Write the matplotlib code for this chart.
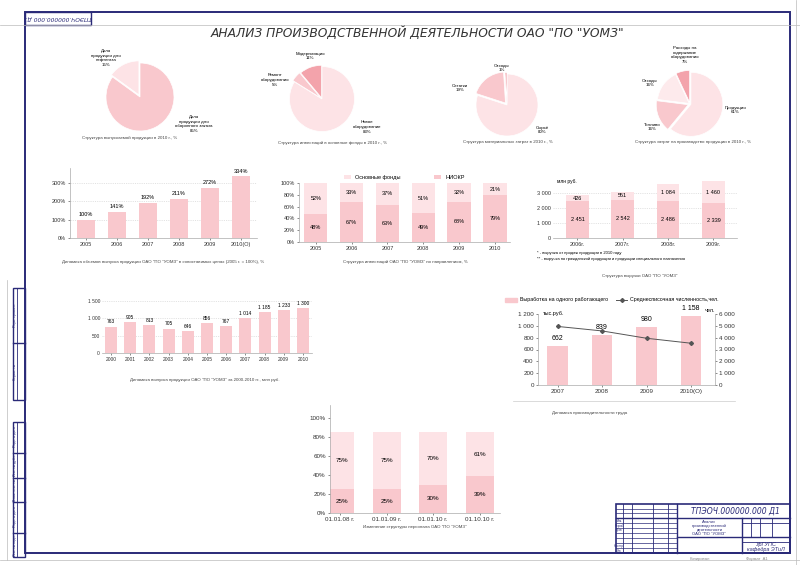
import matplotlib.pyplot as plt
from matplotlib.lines import Line2D
from matplotlib.patches import Rectangle, Patch

W, H = 800, 565
NAVY = '#2a2a78'
PINK = '#f9c8cd'
LIGHT = '#fde3e6'
DARK = '#f3a3ab'
GREY = '#888888'

plt.rcParams['font.family'] = ['Liberation Sans', 'DejaVu Sans']

# ---- данные -------------------------------------------------------------
pie1_values = [85, 15]
pie1_labels = ['Доля\nпродукции для\nоборонного заказа', 'Доля\nпродукции для\nнефтегаза']
pie2_values = [83, 5, 11]
pie2_labels = ['Новое\nоборудование', 'Ремонт\nоборудования', 'Модернизация']
pie3_values = [80, 19, 1]
pie3_labels = ['Сырьё', 'Остатки', 'Отходы']
pie4_values = [61, 16, 16, 7]
pie4_labels = ['Продукция', 'Топливо', 'Отходы', 'Расходы на\nсодержание\nоборудования']

years_growth = ['2005', '2006', '2007', '2008', '2009', '2010(О)']
growth = [100, 141, 192, 211, 272, 334]

years_invest = ['2005', '2006', '2007', '2008', '2009', '2010']
niokr = [48, 67, 63, 49, 68, 79]
funds = [52, 33, 37, 51, 32, 21]

years_rev = ['2006г.', '2007г.', '2008г.', '2009г.']
rev_main = [2451, 2542, 2486, 2339]
rev_extra = [426, 551, 1084, 1460]

years_out = ['2000', '2001', '2002', '2003', '2004', '2005', '2006', '2007', '2008', '2009', '2010']
output = [763, 905, 813, 705, 646, 856, 767, 1014, 1185, 1233, 1300]

years_prod = ['2007', '2008', '2009', '2010(О)']
per_worker = [662, 839, 980, 1158]
headcount = [4950, 4570, 3950, 3530]

dates_staff = ['01.01.08 г.', '01.01.09 г.', '01.01.10 г.', '01.10.10 г.']
staff_low = [25, 25, 30, 39]
staff_high = [75, 75, 70, 61]
staff_bar_total = 85


def rect(x0, y0, x1, y1):
    return [x0 / W, 1 - y1 / H, (x1 - x0) / W, (y1 - y0) / H]


def line(x0, y0, x1, y1, color=NAVY, lw=1.0):
    fig.add_artist(Line2D([x0 / W, x1 / W], [1 - y0 / H, 1 - y1 / H], color=color, lw=lw))


def box(x0, y0, x1, y1, color=NAVY, lw=1.0):
    fig.add_artist(Rectangle((x0 / W, 1 - y1 / H), (x1 - x0) / W, (y1 - y0) / H,
                             fill=False, edgecolor=color, lw=lw))


def txt(x, y, s, **kw):
    kw.setdefault('ha', 'center')
    kw.setdefault('va', 'center')
    kw.setdefault('fontsize', 3.5)
    fig.text(x / W, 1 - y / H, s, **kw)


def fmt(v):
    return f'{v:,}'.replace(',', ' ')


def style_axes(ax, fs=4):
    for s in ['top', 'right']:
        ax.spines[s].set_visible(False)
    for s in ['left', 'bottom']:
        ax.spines[s].set_color('#aaaaaa')
        ax.spines[s].set_linewidth(0.5)
    ax.tick_params(labelsize=fs, length=1.5, width=0.4, pad=1.5, colors='#333333')
    ax.set_facecolor('none')


fig = plt.figure(figsize=(8, 5.65), dpi=100)

# ---- рамка листа --------------------------------------------------------
line(0, 25, 800, 25, color='#bbbbbb', lw=0.5)
line(796, 0, 796, 565, color='#bbbbbb', lw=0.5)
line(7, 280, 7, 560, color='#bbbbbb', lw=0.5)
line(0, 560, 800, 560, color='#bbbbbb', lw=0.5)
box(25, 12, 790, 553, lw=1.4)
box(25, 12, 91, 25, lw=1.0)
txt(58, 18.5, 'ТПЭОЧ.000000.000 Д1', fontsize=4.2, style='italic', rotation=180,
    family='DejaVu Sans', color=NAVY)

# левые штампы
box(13, 288, 25, 400)
line(13, 343, 25, 343)
line(17, 288, 17, 400, lw=0.6)
box(13, 422, 25, 557)
for yy in [453, 478, 502, 533]:
    line(13, yy, 25, yy)
line(17, 422, 17, 557, lw=0.6)
for yy, s in [(315, 'Перв. примен.'), (372, 'Справ. №'), (437, 'Подп. и дата'),
              (465, 'Инв. № дубл.'), (490, 'Взам. инв. №'), (517, 'Подп. и дата'),
              (545, 'Инв. № подл.')]:
    txt(15, yy, s, fontsize=2.5, rotation=90, color=NAVY)

# основная надпись
box(616, 504, 790, 553, lw=1.2)
line(677, 504, 677, 553)
line(616, 518, 790, 518)
for xx in [623, 632, 653, 668]:
    line(xx, 504, xx, 553, lw=0.6)
for yy in [509, 513, 523, 528, 533, 538, 543, 548]:
    line(616, yy, 677, yy, lw=0.5)
line(742, 518, 742, 553)
line(677, 537, 790, 537)
line(742, 523, 790, 523, lw=0.6)
for xx in [751, 760, 772]:
    line(xx, 518, xx, 537, lw=0.6)
line(742, 542, 790, 542, lw=0.6)
txt(735, 511, 'ТПЭОЧ.000000.000 Д1', fontsize=5.5, style='italic', family='DejaVu Sans',
    color=NAVY)
txt(709, 528, 'Анализ\nпроизводственной\nдеятельности\nОАО "ПО "УОМЗ"', fontsize=3,
    linespacing=1.1, color=NAVY)
txt(766, 547, 'УрГУПС\nкафедра ЭТиЛ', fontsize=4, style='italic', color=NAVY,
    linespacing=1.0)
for yy, s in [(520.5, 'Изм.'), (525.5, 'Разраб.'), (530.5, 'Пров.'), (545.5, 'Н.контр.'),
              (550.5, 'Утв.')]:
    txt(619.5, yy, s, fontsize=2, color=NAVY)
txt(700, 559, 'Копировал', fontsize=3, color=GREY)
txt(757, 559, 'Формат  А1', fontsize=3, color=GREY)

# ---- заголовок ----------------------------------------------------------
txt(417, 33, 'АНАЛИЗ ПРОИЗВОДСТВЕННОЙ ДЕЯТЕЛЬНОСТИ ОАО "ПО "УОМЗ"',
    fontsize=8.8, style='italic', family='DejaVu Sans', color='#333333')


# ---- круговые диаграммы -------------------------------------------------
def draw_pie(cx, cy, r, values, names, colors, explode, label_pos, caption, cap_xy):
    k = 1.2
    ax = fig.add_axes(rect(cx - r * k, cy - r * k, cx + r * k, cy + r * k))
    ax.pie(values, colors=colors, explode=explode, startangle=90, counterclock=False,
           wedgeprops=dict(edgecolor='white', linewidth=0.5))
    ax.set_xlim(-k, k)
    ax.set_ylim(-k, k)
    ax.set_aspect('equal')
    ax.axis('off')
    for (lx, ly), name, v in zip(label_pos, names, values):
        txt(lx, ly, f'{name}\n{v}%', fontsize=3.2, linespacing=1.25)
    txt(cap_xy[0], cap_xy[1], caption, fontsize=3.2, color='#444444')


draw_pie(140, 97, 34, pie1_values, pie1_labels, [PINK, LIGHT], [0, 0.07],
         [(194, 124), (106, 58)], 'Структура выпускаемой продукции в 2010 г., %', (130, 138))
draw_pie(322, 99, 32.5, pie2_values, pie2_labels, [LIGHT, PINK, DARK], [0, 0.06, 0.04],
         [(367, 127), (275, 80), (310, 56)],
         'Структура инвестиций в основные фонды в 2010 г., %', (333, 143))
draw_pie(507, 105, 31, pie3_values, pie3_labels, [LIGHT, PINK, DARK], [0, 0.08, 0.05],
         [(542, 130), (460, 88), (502, 68)],
         'Структура материальных затрат в 2010 г., %', (508, 142))
draw_pie(690, 104, 32, pie4_values, pie4_labels, [LIGHT, PINK, '#fdeaec', DARK],
         [0.03, 0.06, 0.03, 0.05],
         [(735, 110), (652, 127), (650, 83), (685, 55)],
         'Структура затрат на производство продукции в 2010 г., %', (693, 142))

# ---- динамика объёмов ---------------------------------------------------
ax = fig.add_axes(rect(70, 168, 257, 238))
xs = range(len(years_growth))
bars = ax.bar(xs, growth, width=0.58, color=PINK, zorder=2)
ax.bar_label(bars, labels=[f'{v}%' for v in growth], padding=2, fontsize=4)
ax.set_ylim(0, 380)
ax.set_xlim(-0.52, 5.52)
ax.set_yticks([0, 100, 200, 300])
ax.set_yticklabels(['0%', '100%', '200%', '300%'])
ax.set_xticks(list(xs))
ax.set_xticklabels(years_growth)
ax.yaxis.grid(True, ls=(0, (2, 2)), color='#cccccc', lw=0.4, zorder=0)
style_axes(ax)
txt(163, 262, 'Динамика объемов выпуска продукции ОАО "ПО "УОМЗ" в сопоставимых ценах '
    '(2005 г. = 100%), %', fontsize=3.2, color='#444444')

# ---- структура инвестиций ----------------------------------------------
ax = fig.add_axes(rect(299, 183, 510, 242))
xs = range(len(years_invest))
b1 = ax.bar(xs, niokr, width=0.65, color=PINK, label='НИОКР')
b2 = ax.bar(xs, funds, width=0.65, bottom=niokr, color=LIGHT, label='Основные фонды')
ax.bar_label(b1, labels=[f'{v}%' for v in niokr], label_type='center', fontsize=4)
ax.bar_label(b2, labels=[f'{v}%' for v in funds], label_type='center', fontsize=4)
ax.set_ylim(0, 100)
ax.set_xlim(-0.47, 5.42)
ax.set_yticks(range(0, 101, 20))
ax.set_yticklabels([f'{v}%' for v in range(0, 101, 20)])
ax.set_xticks(list(xs))
ax.set_xticklabels(years_invest)
style_axes(ax)
ax.legend(handles=[b2, b1], loc='lower center', bbox_to_anchor=(0.5, 1.0), ncol=2,
          frameon=False, fontsize=4, handlelength=1.2, handleheight=0.8,
          columnspacing=6, borderaxespad=0.2)
txt(405, 262, 'Структура инвестиций ОАО "ПО "УОМЗ" по направлениям, %', fontsize=3.2,
    color='#444444')

# ---- структура выручки --------------------------------------------------
ax = fig.add_axes(rect(553, 180, 737, 238))
xs = range(len(years_rev))
b1 = ax.bar(xs, rev_main, width=0.5, color=PINK, zorder=2)
b2 = ax.bar(xs, rev_extra, width=0.5, bottom=rev_main, color=LIGHT, zorder=2)
ax.bar_label(b1, labels=[fmt(v) for v in rev_main], label_type='center', fontsize=4)
ax.bar_label(b2, labels=[fmt(v) for v in rev_extra], label_type='center', fontsize=4)
ax.set_ylim(0, 3870)
ax.set_xlim(-0.54, 3.52)
ax.set_yticks([0, 1000, 2000, 3000])
ax.set_yticklabels([fmt(v) for v in [0, 1000, 2000, 3000]])
ax.set_xticks(list(xs))
ax.set_xticklabels(years_rev)
ax.yaxis.grid(True, ls=(0, (2, 2)), color='#cccccc', lw=0.4, zorder=0)
style_axes(ax)
ax.spines['left'].set_visible(False)
ax.tick_params(axis='y', length=0)
txt(557, 182, 'млн руб.', fontsize=3.5, ha='left')
txt(537, 253, '* - выручка от продаж продукции в 2010 году', fontsize=3, ha='left')
txt(537, 259, '** - выручка по гражданской продукции и продукции специального назначения',
    fontsize=3, ha='left')
txt(640, 276, 'Структура выручки ОАО "ПО "УОМЗ"', fontsize=3.2, color='#444444')

# ---- выпуск продукции 2000-2010 -----------------------------------------
ax = fig.add_axes(rect(102, 301, 312, 353))
xs = range(len(years_out))
bars = ax.bar(xs, output, width=0.62, color=PINK, zorder=2)
ax.bar_label(bars, labels=[fmt(v) for v in output], padding=1.5, fontsize=3.5)
ax.set_ylim(0, 1500)
ax.set_xlim(-0.47, 10.47)
ax.set_yticks([0, 500, 1000, 1500])
ax.set_yticklabels([fmt(v) for v in [0, 500, 1000, 1500]])
ax.set_xticks(list(xs))
ax.set_xticklabels(years_out)
ax.yaxis.grid(True, ls=(0, (2, 2)), color='#cccccc', lw=0.4, zorder=0)
style_axes(ax, fs=3.5)
ax.spines['left'].set_visible(False)
ax.tick_params(axis='y', length=0)
txt(205, 380, 'Динамика выпуска продукции ОАО "ПО "УОМЗ" за 2000-2010 гг., млн руб.',
    fontsize=3.2, color='#444444')

# ---- производительность труда ------------------------------------------
ax = fig.add_axes(rect(538, 314, 715, 385))
xs = range(len(years_prod))
bars = ax.bar(xs, per_worker, width=0.47, color=PINK, zorder=2)
ax.bar_label(bars, labels=[fmt(v) for v in per_worker], padding=3, fontsize=5)
ax.set_ylim(0, 1200)
ax.set_xlim(-0.44, 3.54)
ax.set_yticks(range(0, 1201, 200))
ax.set_yticklabels([fmt(v) for v in range(0, 1201, 200)])
ax.set_xticks(list(xs))
ax.set_xticklabels(years_prod)
style_axes(ax, fs=4.5)
ax2 = ax.twinx()
ln, = ax2.plot(list(xs), headcount, color='#555555', lw=0.7, marker='D', ms=2)
ax2.set_ylim(0, 6000)
ax2.set_yticks(range(0, 6001, 1000))
ax2.set_yticklabels([fmt(v) for v in range(0, 6001, 1000)])
style_axes(ax2, fs=4.5)
ax2.spines['right'].set_visible(True)
ax2.spines['right'].set_color('#aaaaaa')
ax2.spines['right'].set_linewidth(0.5)
ax2.spines['left'].set_visible(False)
ax2.spines['bottom'].set_visible(False)
txt(543, 314, 'тыс.руб.', fontsize=4, ha='left')
txt(705, 311, 'чел.', fontsize=4, ha='left')
fig.legend(handles=[Patch(color=PINK), ln],
           labels=['Выработка на одного работающего', 'Среднесписочная численность,чел.'],
           loc='center', bbox_to_anchor=(612 / W, 1 - 300 / H), ncol=2, frameon=False,
           fontsize=3.8, handlelength=2.2, handleheight=0.8, columnspacing=1.5,
           handletextpad=0.5)
line(513, 401, 735, 401, color='#cccccc', lw=0.5)
txt(590, 413, 'Динамика производительности труда', fontsize=3.2, color='#444444')

# ---- структура персонала -----------------------------------------------
ax = fig.add_axes(rect(330, 405, 500, 513))
xs = range(len(dates_staff))
b1 = ax.bar(xs, staff_low, width=0.6, color=PINK)
b2 = ax.bar(xs, [staff_bar_total - v for v in staff_low], width=0.6, bottom=staff_low,
            color=LIGHT)
ax.bar_label(b1, labels=[f'{v}%' for v in staff_low], label_type='center', fontsize=4.5)
ax.bar_label(b2, labels=[f'{v}%' for v in staff_high], label_type='center', fontsize=4.5)
ax.set_ylim(0, 114)
ax.set_xlim(-0.21, 3.43)
ax.set_yticks(range(0, 101, 20))
ax.set_yticklabels([f'{v}%' for v in range(0, 101, 20)])
ax.set_xticks(list(xs))
ax.set_xticklabels(dates_staff)
style_axes(ax, fs=4.5)
txt(415, 527, 'Изменение структуры персонала ОАО "ПО "УОМЗ"', fontsize=3.2,
    color='#444444')

fig.savefig('out.png', dpi=100, facecolor='white')
